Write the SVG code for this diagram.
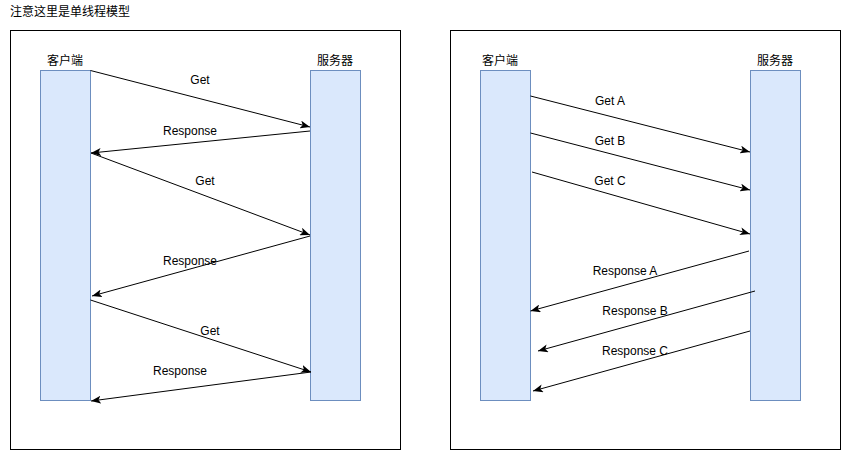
<svg xmlns="http://www.w3.org/2000/svg" width="841" height="451" viewBox="0 0 841 451">
<style>
.frame{fill:#fff;stroke:#000;stroke-width:1}
.life{fill:#dae8fc;stroke:#6c8ebf;stroke-width:1}
.t{font-family:"Liberation Sans","Noto Sans CJK SC",Arial,sans-serif;font-size:12px;fill:#000;text-anchor:middle}
.title{font-family:"Liberation Sans","Noto Sans CJK SC",Arial,sans-serif;font-size:12px;fill:#000}
.msg{stroke:#000;stroke-width:1;fill:none;marker-end:url(#arr)}
</style>
<defs>
<marker id="arr" viewBox="0 0 10 8" refX="10" refY="4" markerWidth="10" markerHeight="8" markerUnits="userSpaceOnUse" orient="auto">
<path d="M0,0 L10,4 L0,8 L2.5,4 z" fill="#000"/>
</marker>
</defs>
<rect width="841" height="451" fill="#fff"/>
<text class="title" x="10" y="16">注意这里是单线程模型</text>
<g id="frame-left"><rect class="frame" x="10.5" y="30.5" width="390" height="419"/></g>
<g id="frame-right"><rect class="frame" x="450.5" y="30.5" width="390" height="419"/></g>
<g id="client-left"><rect class="life" x="40.5" y="70.5" width="50" height="330"/><text class="t" x="65" y="65">客户端</text></g>
<g id="server-left"><rect class="life" x="310.5" y="70.5" width="50" height="330"/><text class="t" x="335" y="65">服务器</text></g>
<g id="client-right"><rect class="life" x="480.5" y="70.5" width="50" height="330"/><text class="t" x="500" y="65">客户端</text></g>
<g id="server-right"><rect class="life" x="750.5" y="70.5" width="50" height="330"/><text class="t" x="775" y="65">服务器</text></g>
<g id="connectors">
<line class="msg" x1="90.5" y1="70.5" x2="310" y2="127"/>
<line class="msg" x1="310" y1="131" x2="91" y2="153"/>
<line class="msg" x1="91" y1="153" x2="310" y2="235"/>
<line class="msg" x1="310" y1="236" x2="92" y2="296"/>
<line class="msg" x1="90.5" y1="300" x2="311" y2="372"/>
<line class="msg" x1="311" y1="372" x2="91" y2="401"/>
<line class="msg" x1="530.5" y1="96" x2="750" y2="152"/>
<line class="msg" x1="530.5" y1="133" x2="750" y2="190"/>
<line class="msg" x1="532" y1="172" x2="750" y2="234"/>
<line class="msg" x1="749" y1="251" x2="530.5" y2="311"/>
<line class="msg" x1="755" y1="291" x2="538" y2="351"/>
<line class="msg" x1="750" y1="331" x2="533" y2="391"/>
</g>
<g id="labels">
<text class="t" x="200" y="84">Get</text>
<text class="t" x="190" y="135">Response</text>
<text class="t" x="205" y="185">Get</text>
<text class="t" x="190" y="265">Response</text>
<text class="t" x="210" y="335">Get</text>
<text class="t" x="180" y="375">Response</text>
<text class="t" x="610" y="105">Get A</text>
<text class="t" x="610" y="145">Get B</text>
<text class="t" x="610" y="185">Get C</text>
<text class="t" x="625" y="275">Response A</text>
<text class="t" x="635" y="315">Response B</text>
<text class="t" x="635" y="355">Response C</text>
</g>
</svg>
